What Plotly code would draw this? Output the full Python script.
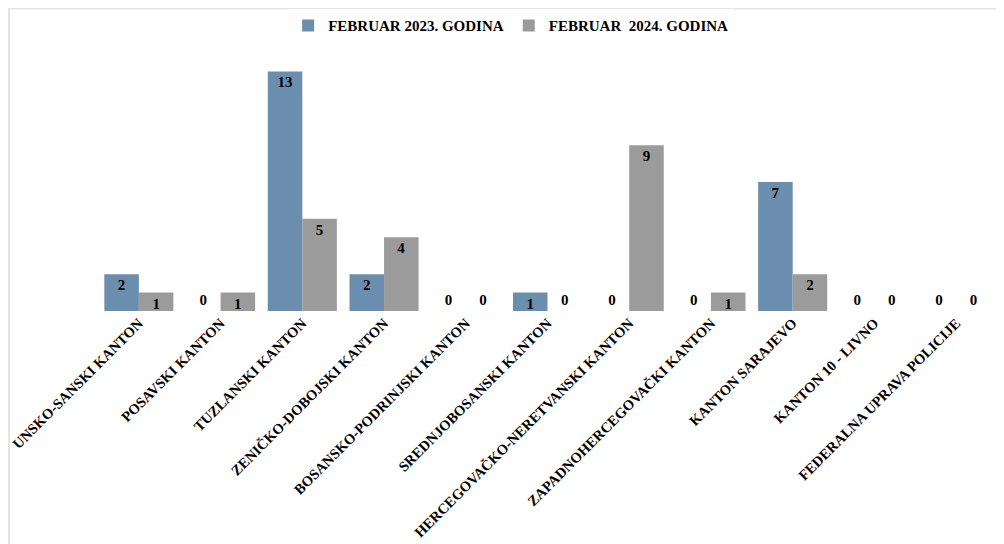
import plotly.graph_objects as go

kantoni = [
    "UNSKO-SANSKI KANTON",
    "POSAVSKI KANTON",
    "TUZLANSKI KANTON",
    "ZENIČKO-DOBOJSKI KANTON",
    "BOSANSKO-PODRINJSKI KANTON",
    "SREDNJOBOSANSKI KANTON",
    "HERCEGOVAČKO-NERETVANSKI KANTON",
    "ZAPADNOHERCEGOVAČKI KANTON",
    "KANTON SARAJEVO",
    "KANTON 10 - LIVNO",
    "FEDERALNA UPRAVA POLICIJE",
]
feb_2023 = [2, 0, 13, 2, 0, 1, 0, 0, 7, 0, 0]
feb_2024 = [1, 1, 5, 4, 0, 0, 9, 1, 2, 0, 0]

FONT = "Liberation Serif"

fig = go.Figure()

for name, vals, color in [
    ("FEBRUAR 2023. GODINA", feb_2023, "#6b8dae"),
    ("FEBRUAR  2024. GODINA", feb_2024, "#9b9b9b"),
]:
    fig.add_bar(
        x=kantoni, y=vals, name=name,
        marker=dict(color=color, line=dict(width=0)),
        text=[str(v) for v in vals],
        textposition=["inside" if v > 0 else "outside" for v in vals],
        insidetextanchor="end",
        textangle=0,
        textfont=dict(family=FONT, size=15, color="black", weight="bold"),
        cliponaxis=False,
        constraintext="none",
    )

# svijetlosivi okvir oko grafikona
fig.add_shape(type="rect", xref="paper", yref="paper",
              x0=-0.099, x1=1.05, y0=-1.0, y1=1.172,
              line=dict(color="#e4e4e4", width=2), layer="below")

fig.update_layout(
    width=1004, height=544,
    margin=dict(l=90, r=15, t=45, b=241, autoexpand=False),
    paper_bgcolor="white", plot_bgcolor="white",
    barmode="group", bargap=0.155, bargroupgap=0,
    showlegend=True,
    legend=dict(orientation="h", x=0.459, xanchor="center", y=1.106, yanchor="middle",
                font=dict(family=FONT, size=15, color="black", weight="bold"),
                itemwidth=30, tracegroupgap=0),
    xaxis=dict(tickangle=-45, automargin=False, showline=False, ticks="",
               tickfont=dict(family=FONT, size=14.5, color="black", weight="bold")),
    yaxis=dict(range=[0, 14], visible=False),
)

fig.write_html("out.html")
